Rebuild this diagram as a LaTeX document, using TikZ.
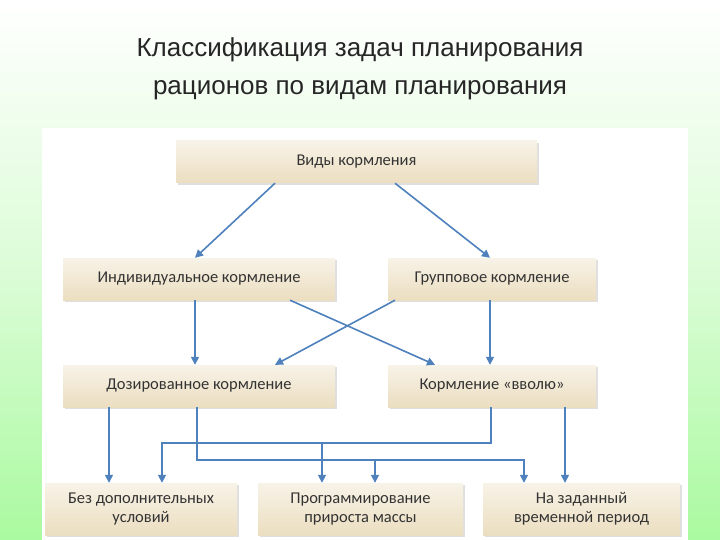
\documentclass[tikz,border=0pt]{standalone}
\usepackage{fontspec}
\setmainfont{Carlito}
\newfontfamily\titlefont{Liberation Sans}
\usetikzlibrary{shadows,calc,arrows.meta}
\definecolor{arrc}{RGB}{79,129,189}
\definecolor{btop}{RGB}{248,243,232}
\definecolor{bbot}{RGB}{235,222,192}
\begin{document}
\begin{tikzpicture}[x=1pt,y=-1pt,
  box/.style={draw=none,top color=btop,bottom color=bbot,drop shadow={shadow xshift=2pt,shadow yshift=-2pt,opacity=0.25},
    inner sep=0pt,font=\fontsize{16.5}{19}\selectfont,align=center,text=black!80},
  arr/.style={draw=arrc,line width=1.6pt,-{Triangle[length=8pt,width=8pt]}}]
\useasboundingbox (0,0) rectangle (720,540);
\shade[top color=white,bottom color={rgb,255:red,170;green,250;blue,160},middle color={rgb,255:red,220;green,252;blue,215}] (0,0) rectangle (720,540);
\fill[white] (42,128) rectangle (688,540);
\node[font=\titlefont\fontsize{26}{38}\selectfont,text=black!85,align=center] (title) at (360,69) {Классификация задач планирования\\рационов по видам планирования};
\node[box,minimum width=361pt,minimum height=42pt] (top) at (356.5,162) {Виды кормления};
\node[box,minimum width=272pt,minimum height=42pt] (ind) at (199,279) {Индивидуальное кормление};
\node[box,minimum width=208pt,minimum height=42pt] (grp) at (492,279) {Групповое кормление};
\node[box,minimum width=272pt,minimum height=42pt] (doz) at (199,386) {Дозированное кормление};
\node[box,minimum width=208pt,minimum height=42pt] (vv) at (492,386) {Кормление «вволю»};
\node[box,minimum width=192pt,minimum height=52pt] (b1) at (141,509) {Без дополнительных\\условий};
\node[box,minimum width=205pt,minimum height=52pt] (b2) at (360.5,509) {Программирование\\прироста массы};
\node[box,minimum width=197pt,minimum height=52pt] (b3) at (581.5,509) {На заданный\\временной период};
\coordinate (vl) at (491,443);
\coordinate (dl) at (197,460);
\draw[arr] (top.south -| 275,0) -- (ind.north -| 195,0);
\draw[arr] (top.south -| 395,0) -- (grp.north -| 490,0);
\draw[arr] (ind.south -| 195,0) -- (doz.north -| 195,0);
\draw[arr] (grp.south -| 490,0) -- (vv.north -| 490,0);
\draw[arr] (ind.south -| 290,0) -- (vv.north -| 435,0);
\draw[arr] (grp.south -| 395,0) -- (doz.north -| 275,0);
\draw[arr] (doz.south -| 109,0) -- (b1.north -| 109,0);
\draw[arr] (vv.south -| 565,0) -- (b3.north -| 565,0);
\draw[arr] (vv.south -| vl) -- (vl) -- (162,443) -- (b1.north -| 162,0);
\draw[arr] (322,443) -- (b2.north -| 322,0);
\draw[arr] (doz.south -| dl) -- (dl) -- (524,460) -- (b3.north -| 524,0);
\draw[arr] (375,460) -- (b2.north -| 375,0);
\end{tikzpicture}
\end{document}
